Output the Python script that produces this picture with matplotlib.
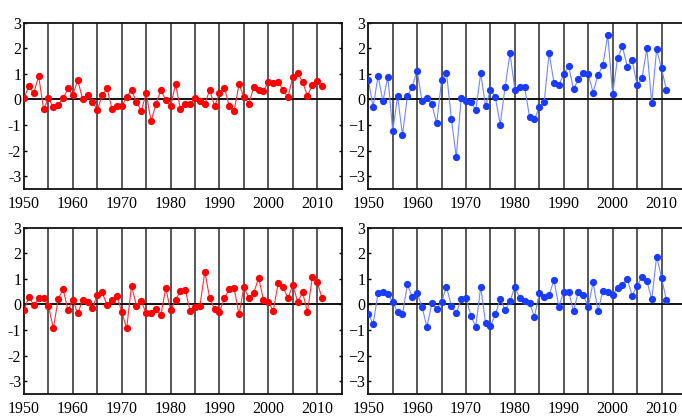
import matplotlib
matplotlib.use("Agg")
import matplotlib.pyplot as plt

years = list(range(1950, 2012))

red_top = [0.05, 0.52, 0.24, 0.92, -0.39, 0.04, -0.31, -0.22, 0.04, 0.43,
           0.17, 0.76, 0.00, 0.17, -0.09, -0.42, 0.17, 0.43, -0.37, -0.26,
           -0.26, 0.10, 0.37, -0.09, -0.44, 0.24, -0.85, -0.18, 0.37, -0.03,
           -0.26, 0.59, -0.37, -0.18, -0.16, 0.04, -0.07, -0.18, 0.37, -0.26,
           0.24, 0.46, -0.26, -0.44, 0.59, 0.10, -0.16, 0.47, 0.37, 0.33,
           0.69, 0.63, 0.69, 0.37, 0.08, 0.89, 1.02, 0.69, 0.14, 0.56,
           0.73, 0.52]

blue_top = [0.76, -0.29, 0.92, -0.07, 0.89, -1.24, 0.13, -1.40, 0.13, 0.50,
            1.12, -0.07, 0.04, -0.18, -0.94, 0.76, 1.05, -0.75, -2.25, 0.04,
            -0.05, -0.09, -0.42, 1.02, -0.26, 0.37, 0.08, -0.98, 0.50, 1.80,
            0.37, 0.50, 0.47, -0.68, -0.78, -0.31, -0.09, 1.80, 0.65, 0.56,
            0.99, 1.31, 0.39, 0.80, 1.05, 0.99, 0.27, 0.95, 1.33, 2.52,
            0.20, 1.61, 2.07, 1.28, 1.54, 0.56, 0.82, 2.00, -0.13, 1.96,
            1.22, 0.37]

red_bottom = [-0.22, 0.30, -0.03, 0.24, 0.24, -0.05, -0.94, 0.21, 0.60, -0.22,
              0.17, -0.35, 0.17, 0.08, -0.13, 0.37, 0.47, -0.03, 0.17, 0.34,
              -0.29, -0.94, 0.73, -0.05, 0.13, -0.35, -0.33, -0.18, -0.42, 0.63,
              -0.22, 0.17, 0.52, 0.56, -0.26, -0.09, -0.05, 1.28, 0.24, -0.18,
              -0.29, 0.24, 0.60, 0.63, -0.39, 0.69, 0.24, 0.43, 1.05, 0.17,
              0.08, -0.25, 0.82, 0.69, 0.24, 0.76, 0.10, 0.47, -0.29, 1.08,
              0.86, 0.24]

blue_bottom = [-0.39, -0.75, 0.43, 0.47, 0.39, 0.10, -0.31, -0.39, 0.78, 0.30,
               0.43, -0.09, -0.88, 0.04, -0.16, 0.10, 0.69, -0.05, -0.35, 0.21,
               0.26, -0.44, -0.88, 0.69, -0.71, -0.84, -0.39, 0.21, -0.22, 0.13,
               0.69, 0.24, 0.13, 0.04, -0.48, 0.43, 0.30, 0.37, 0.95, -0.09,
               0.50, 0.50, -0.26, 0.50, 0.37, -0.09, 0.86, -0.26, 0.52, 0.47,
               0.37, 0.65, 0.76, 0.99, 0.34, 0.73, 1.08, 0.92, 0.21, 1.87,
               1.05, 0.17]

x_ticks = [1950, 1960, 1970, 1980, 1990, 2000, 2010]
y_ticks = [-3, -2, -1, 0, 1, 2, 3]
grid_years = list(range(1955, 2015, 5))

plt.rcParams['font.family'] = ['Liberation Serif', 'DejaVu Serif']

fig = plt.figure(figsize=(6.82, 4.17), dpi=100)

W = 0.4658
H = 0.3988
panels = [
    ([0.0352, 0.5468, W, H], red_top, '#ff0000', '#ff3030', '-'),
    ([0.5400, 0.5468, W, H], blue_top, '#1a3cff', '#7088ff', '\u2212'),
    ([0.0352, 0.0552, W, H], red_bottom, '#ff0000', '#ff3030', '-'),
    ([0.5400, 0.0552, W, H], blue_bottom, '#1a3cff', '#7088ff', '\u2212'),
]

for rect, values, mcolor, lcolor, minus in panels:
    ax = fig.add_axes(rect)
    ax.set_xlim(1950, 2015)
    ax.set_ylim(-3.5, 3)
    for gy in grid_years:
        ax.axvline(gy, color='#2a2a2a', lw=1.1, zorder=1)
    ax.axhline(0, color='#111111', lw=1.4, zorder=1)
    ax.plot(years, values, color=lcolor, lw=0.8, zorder=2)
    ax.plot(years, values, linestyle='none', marker='o', markersize=4.2,
            markerfacecolor=mcolor, markeredgecolor=mcolor, zorder=3)
    ax.set_xticks(x_ticks)
    ax.set_xticklabels([str(v) for v in x_ticks])
    ax.set_yticks(y_ticks)
    ax.set_yticklabels([(minus + str(-v)) if v < 0 else str(v) for v in y_ticks])
    ax.tick_params(axis='y', direction='in', length=2.5, width=1.0,
                   left=True, right=True, labelsize=11.5, pad=2)
    ax.tick_params(axis='x', length=0, labelsize=11.5, pad=5)
    for s in ax.spines.values():
        s.set_linewidth(1.3)
        s.set_color('#111111')

fig.savefig('out.png', dpi=100)
